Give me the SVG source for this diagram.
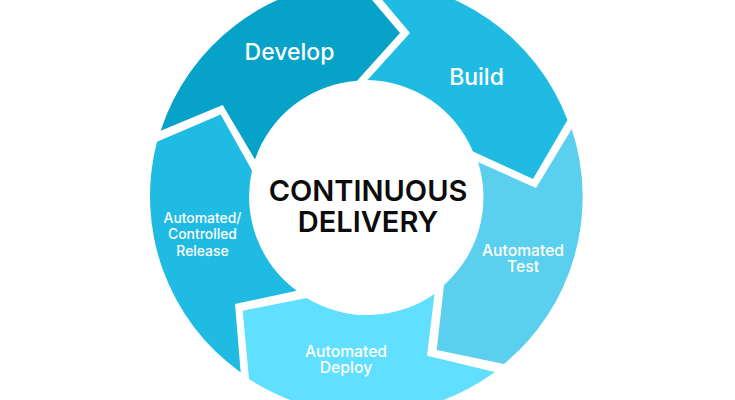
<svg xmlns="http://www.w3.org/2000/svg" width="735" height="400" viewBox="0 0 735 400">
<style>
text{font-family:"Inter","Liberation Sans",sans-serif;text-anchor:middle}
.l{fill:#fff;font-weight:500}
.big{font-size:23px}
.mid{font-size:15.700px}
.small{font-size:13.900px}
.c{fill:#0c0c0c;font-size:29px;font-weight:600}
</style>
<rect width="735" height="400" fill="#fff"/>
<g id="develop">
<path fill="#07A2C8" d="M160.700 130.700L222.700 105L255 159.500A117 117 0 0 1 357 80.700L400 33L356 -19A216.500 216.500 0 0 0 160.700 130.700Z"/>
<text class="l big" x="289.500" y="60">Develop</text>
</g>
<g id="build">
<path fill="#20BBE3" d="M367.500 80L410 33L366 -19.500A216.500 216.500 0 0 1 567.500 120L533 179L473 151.500A117 117 0 0 0 367.500 80Z"/>
<text class="l big" x="476.500" y="85">Build</text>
</g>
<g id="test">
<path fill="#5BD0EE" d="M478 162L536 188L571.700 129A216.500 216.500 0 0 1 504 364L436.700 350L444 285A117 117 0 0 0 478 162Z"/>
<text class="l mid" x="523" y="255.500">Automated<tspan x="523" dy="16.500">Test</tspan></text>
</g>
<g id="deploy">
<path fill="#60DFFF" d="M434.500 294L427 355.700L495 372A216.500 216.500 0 0 1 249 379L242.700 310.700L306.700 298A117 117 0 0 0 434.500 294Z"/>
<text class="l mid" x="346" y="357.300">Automated<tspan x="346" dy="16">Deploy</tspan></text>
</g>
<g id="release">
<path fill="#20BBE3" d="M296.700 290.700L235 304L240.700 372.500A216.500 216.500 0 0 1 157 141.700L220.700 114.500L252 170.500A117 117 0 0 0 296.700 290.700Z"/>
<text class="l small" x="202.500" y="222.500">Automated/<tspan x="202.500" dy="16.500">Controlled</tspan><tspan x="202.500" dy="16.500">Release</tspan></text>
</g>
<g id="center">
<text class="c" x="368" y="201">CONTINUOUS<tspan x="368" dy="31">DELIVERY</tspan></text>
</g>
<g id="connectors"/>
</svg>
